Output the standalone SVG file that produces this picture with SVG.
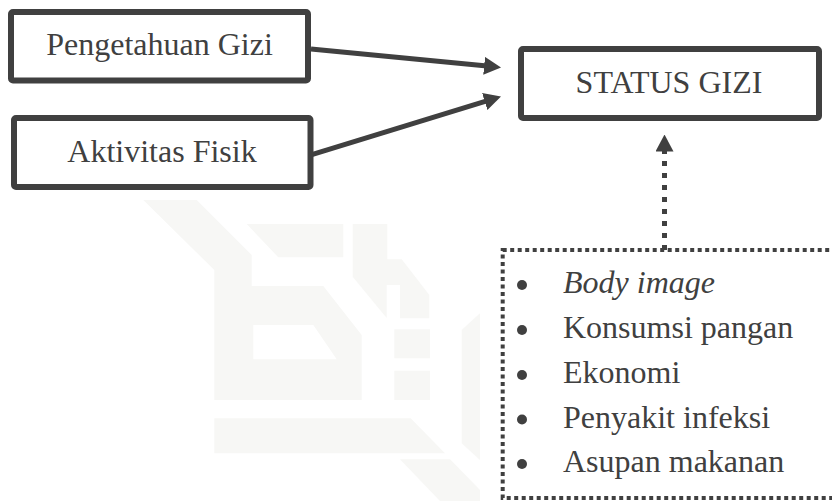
<svg xmlns="http://www.w3.org/2000/svg" width="832" height="501" viewBox="0 0 832 501">
<defs>
<style>
.wm{fill:#f7f7f5;stroke:none}
.box{fill:none;stroke:#404040;stroke-width:6}
.t{font-family:"Liberation Serif","Times New Roman",serif;font-size:32px;fill:#404040}
.c{stroke:#404040;stroke-width:5;fill:none}
.dot{stroke:#404040;stroke-width:4;fill:none;stroke-dasharray:4 3.5}
.b{fill:#404040}
</style>
<marker id="ah" markerUnits="userSpaceOnUse" markerWidth="17" markerHeight="18" refX="3" refY="9" orient="auto" viewBox="0 0 17 18">
<path d="M0,0 L17,9 L0,18 z" fill="#404040"/>
</marker>
</defs>
<rect width="832" height="501" fill="#ffffff"/>
<g id="watermark">
<path class="wm" fill-rule="evenodd" d="M143.3,200 L196.7,200 L251.7,255 L251.7,286 L323.3,286 L361.7,335 L361.7,400 L214.3,400 L214.3,270 Z M253.3,325 L313.3,325 L336.7,359.3 L253.3,359.3 Z"/>
<path class="wm" d="M246.7,224 L343.3,224 L343.3,257.3 L278.3,257.3 Z"/>
<path class="wm" d="M352.7,224 L387.3,224 L387.3,259.3 L401.7,259.3 L429.3,295 L429.3,318.3 L400,318.3 L400,285 L386.7,285 L386.7,318 L352.7,276.7 Z"/>
<rect class="wm" x="394.3" y="329.3" width="35.7" height="29"/>
<rect class="wm" x="394.3" y="370.7" width="35.7" height="29.3"/>
<path class="wm" d="M214.3,418.3 L410.7,418.3 L445,453.3 L214.3,453.3 Z"/>
<path class="wm" d="M400,459.3 L450,459.3 L480,490 L480,501 L440,501 Z"/>
<path class="wm" d="M461.7,330 L480,313.3 L480,460 L461.7,443.3 Z"/>
</g>
<g id="connectors">
<line class="c" x1="311" y1="49" x2="487.1" y2="66.1" marker-end="url(#ah)"/>
<line class="c" x1="311" y1="154.9" x2="487.6" y2="100.6" marker-end="url(#ah)"/>
<line class="c" x1="664.5" y1="250" x2="664.5" y2="148.5" stroke-dasharray="5 7" marker-end="url(#ah)"/>
</g>
<g id="node-pengetahuan">
<rect class="box" x="11" y="12" width="297" height="68.5" rx="2"/>
<text class="t" x="159.5" y="54.5" text-anchor="middle">Pengetahuan Gizi</text>
</g>
<g id="node-aktivitas">
<rect class="box" x="14" y="118" width="296.5" height="69" rx="2"/>
<text class="t" x="162" y="161.5" text-anchor="middle">Aktivitas Fisik</text>
</g>
<g id="node-status">
<rect class="box" x="521" y="49" width="298" height="69" rx="2"/>
<text class="t" x="669" y="93" text-anchor="middle">STATUS GIZI</text>
</g>
<g id="node-factors">
<rect class="dot" x="502.7" y="250" width="345" height="248"/>
<circle class="b" cx="522" cy="285" r="5"/>
<text class="t" x="563" y="293" font-style="italic">Body image</text>
<circle class="b" cx="522" cy="330" r="5"/>
<text class="t" x="563" y="338">Konsumsi pangan</text>
<circle class="b" cx="522" cy="375" r="5"/>
<text class="t" x="563" y="383">Ekonomi</text>
<circle class="b" cx="522" cy="419.5" r="5"/>
<text class="t" x="563" y="427.5">Penyakit infeksi</text>
<circle class="b" cx="522" cy="464" r="5"/>
<text class="t" x="563" y="472">Asupan makanan</text>
</g>
</svg>
